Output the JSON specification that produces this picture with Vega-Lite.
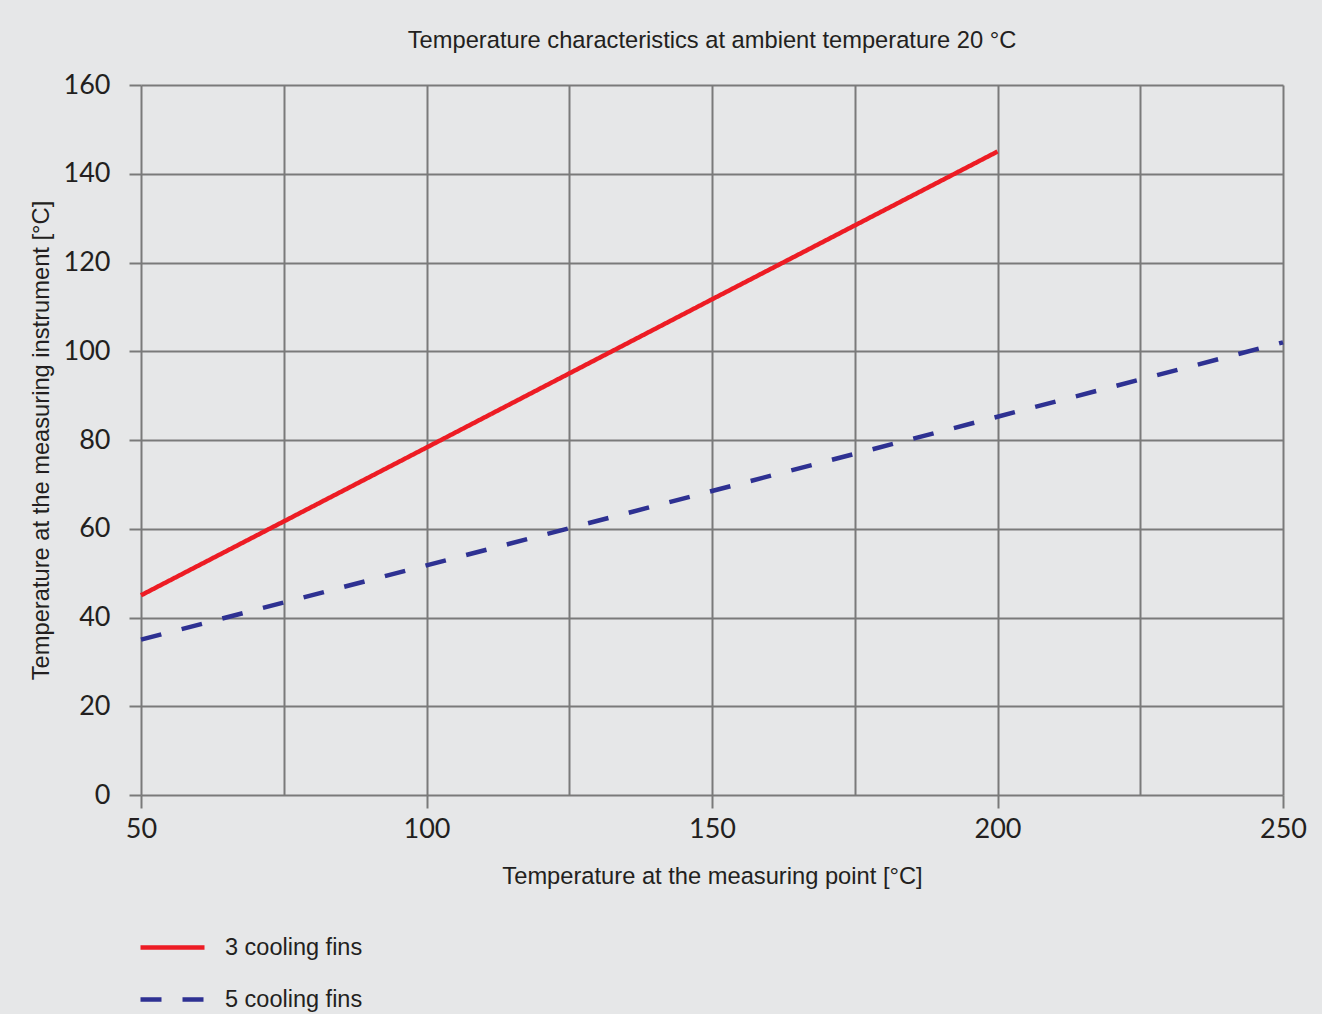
{
  "$schema": "https://vega.github.io/schema/vega-lite/v6.json",
  "width": 1142,
  "height": 710,
  "autosize": {"type": "none"},
  "padding": {"left": 141, "top": 85, "right": 39, "bottom": 219},
  "background": "#e6e7e8",
  "title": {
    "text": "Temperature characteristics at ambient temperature 20 °C",
    "anchor": "middle",
    "frame": "group",
    "font": "Liberation Sans",
    "fontSize": 23.7,
    "fontWeight": "normal",
    "color": "#231f20",
    "offset": 18
  },
  "data": {
    "values": [
      {"series": "3 cooling fins", "x": 50, "y": 45},
      {"series": "3 cooling fins", "x": 100, "y": 78.3},
      {"series": "3 cooling fins", "x": 150, "y": 111.7},
      {"series": "3 cooling fins", "x": 200, "y": 145},
      {"series": "5 cooling fins", "x": 50, "y": 35},
      {"series": "5 cooling fins", "x": 100, "y": 51.75},
      {"series": "5 cooling fins", "x": 150, "y": 68.5},
      {"series": "5 cooling fins", "x": 200, "y": 85.25},
      {"series": "5 cooling fins", "x": 250, "y": 102}
    ]
  },
  "mark": {"type": "line", "strokeWidth": 4.5, "strokeCap": "butt"},
  "encoding": {
    "x": {
      "field": "x",
      "type": "quantitative",
      "scale": {"domain": [50, 250], "nice": false, "zero": false},
      "axis": {
        "title": "Temperature at the measuring point [°C]",
        "values": [50, 75, 100, 125, 150, 175, 200, 225, 250],
        "labelExpr": "datum.value % 50 === 0 ? datum.label : ''",
        "tickOpacity": {"condition": {"test": "datum.value % 50 !== 0", "value": 0}, "value": 1},
        "tickSize": 13,
        "labelPadding": 8,
        "titlePadding": 22,
        "labelFlush": false,
        "labelOverlap": false
      }
    },
    "y": {
      "field": "y",
      "type": "quantitative",
      "scale": {"domain": [0, 160], "nice": false},
      "axis": {
        "title": "Temperature at the measuring instrument [°C]",
        "values": [0, 20, 40, 60, 80, 100, 120, 140, 160],
        "tickSize": 12,
        "labelPadding": 19,
        "titlePadding": 10
      }
    },
    "color": {
      "field": "series",
      "type": "nominal",
      "scale": {"domain": ["3 cooling fins", "5 cooling fins"], "range": ["#ed1c24", "#2e3192"]},
      "legend": {
        "title": null,
        "orient": "none",
        "legendX": -3,
        "legendY": 828,
        "symbolType": "stroke",
        "symbolSize": 4096,
        "symbolStrokeWidth": 4.5,
        "labelFont": "Liberation Sans",
        "labelFontSize": 23.5,
        "labelColor": "#231f20",
        "labelOffset": 18,
        "rowPadding": 6
      }
    },
    "strokeDash": {
      "field": "series",
      "type": "nominal",
      "scale": {"domain": ["3 cooling fins", "5 cooling fins"], "range": [[1, 0], [21, 21]]},
      "legend": null
    }
  },
  "config": {
    "view": {"stroke": null},
    "axis": {
      "domain": false,
      "grid": true,
      "gridColor": "#7a7a7a",
      "gridWidth": 2,
      "gridOpacity": 1,
      "tickColor": "#7a7a7a",
      "tickWidth": 2,
      "labelFont": "Lato",
      "labelFontSize": 27,
      "labelColor": "#231f20",
      "titleFont": "Liberation Sans",
      "titleFontSize": 23.7,
      "titleFontWeight": "normal",
      "titleColor": "#231f20"
    }
  }
}
